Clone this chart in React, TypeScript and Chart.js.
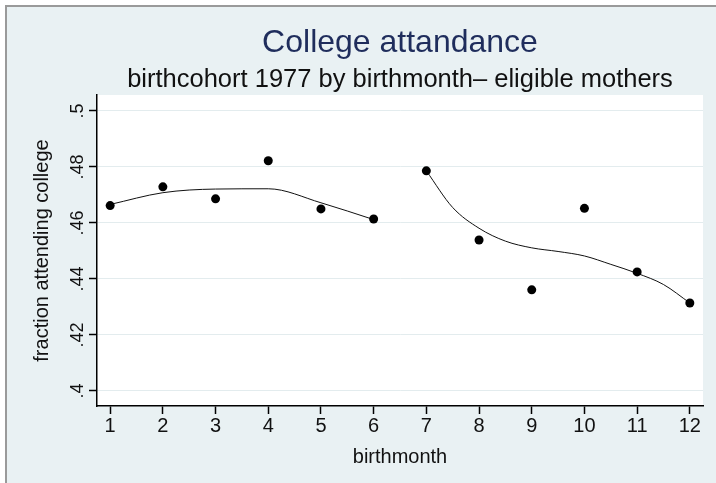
import React, { useEffect, useRef } from 'react';
import { Chart, registerables } from 'chart.js';

Chart.register(...registerables);

// ---- data ----
const months = [1, 2, 3, 4, 5, 6, 7, 8, 9, 10, 11, 12];
const fraction = [0.4662, 0.4729, 0.4686, 0.4822, 0.465, 0.4614, 0.4786, 0.4539, 0.4361, 0.4652, 0.4425, 0.4314];

const fitMonthsFirst = [1, 2, 3, 4, 5, 6];
const fitValuesFirst = [0.4666, 0.4708, 0.4721, 0.4722, 0.4672, 0.4612];

const fitMonthsSecond = [7, 7.5, 8, 8.5, 9, 9.5, 10, 10.5, 11, 11.5, 12];
const fitValuesSecond = [0.4786, 0.4655, 0.4581, 0.4535, 0.4511, 0.4498, 0.4482, 0.4452, 0.442, 0.438, 0.4314];

const xTickValues = [1, 2, 3, 4, 5, 6, 7, 8, 9, 10, 11, 12];
const xTickLabels = ['1', '2', '3', '4', '5', '6', '7', '8', '9', '10', '11', '12'];
const yTickValues = [0.4, 0.42, 0.44, 0.46, 0.48, 0.5];
const yTickLabels = ['.4', '.42', '.44', '.46', '.48', '.5'];

const titleText = 'College attandance';
const subtitleText = 'birthcohort 1977 by birthmonth\u2013 eligible mothers';
const xTitle = 'birthmonth';
const yTitle = 'fraction attending college';

const FONT = '"Liberation Sans", Arial, Helvetica, sans-serif';

const bgPlugin = {
  id: 'stataBg',
  beforeDraw(chart: any) {
    const { ctx, width, height, chartArea } = chart;
    ctx.save();
    ctx.fillStyle = '#ffffff';
    ctx.fillRect(0, 0, width, height);
    ctx.fillStyle = '#E9F1F3';
    ctx.fillRect(5, 5, width - 5, height - 5);
    ctx.fillStyle = '#9a9a9a';
    ctx.fillRect(5, 5, width - 5, 2);
    ctx.fillRect(5, 5, 2, height - 5);
    ctx.fillStyle = '#ffffff';
    ctx.fillRect(chartArea.left, chartArea.top, chartArea.right - chartArea.left, chartArea.bottom - chartArea.top);
    ctx.restore();
  },
};

export default function App() {
  const ref = useRef<HTMLCanvasElement | null>(null);

  useEffect(() => {
    document.body.style.margin = '0';
    const canvas = ref.current;
    if (!canvas) return;
    const chart = new Chart(canvas, {
      type: 'scatter',
      data: {
        datasets: [
          {
            type: 'scatter',
            data: months.map((m, i) => ({ x: m, y: fraction[i] })),
            backgroundColor: '#000',
            borderColor: '#000',
            pointRadius: 4.5,
            pointBorderWidth: 0,
            order: 0,
          },
          {
            type: 'line',
            data: fitMonthsFirst.map((m, i) => ({ x: m, y: fitValuesFirst[i] })),
            borderColor: '#111',
            borderWidth: 1,
            pointRadius: 0,
            tension: 0.4,
            cubicInterpolationMode: 'monotone',
            fill: false,
            order: 1,
          },
          {
            type: 'line',
            data: fitMonthsSecond.map((m, i) => ({ x: m, y: fitValuesSecond[i] })),
            borderColor: '#111',
            borderWidth: 1,
            pointRadius: 0,
            tension: 0.4,
            cubicInterpolationMode: 'monotone',
            fill: false,
            order: 1,
          },
        ],
      } as any,
      options: {
        responsive: false,
        animation: false,
        devicePixelRatio: 1,
        layout: { padding: { left: 0, right: 13, top: 0, bottom: 0 } },
        plugins: {
          legend: { display: false },
          tooltip: { enabled: false },
          title: {
            display: true,
            text: titleText,
            fullSize: false,
            color: '#1F2D5C',
            font: { family: FONT, size: 32, weight: 'normal' },
            padding: { top: 24, bottom: 1 },
          },
          subtitle: {
            display: true,
            text: subtitleText,
            fullSize: false,
            color: '#111',
            font: { family: FONT, size: 25.5, weight: 'normal' },
            padding: { top: 1, bottom: 0 },
          },
        },
        scales: {
          x: {
            type: 'linear',
            min: 0.75,
            max: 12.25,
            afterBuildTicks: (s: any) => {
              s.ticks = xTickValues.map((v) => ({ value: v }));
            },
            afterFit: (s: any) => {
              s.height = 77;
            },
            ticks: {
              autoSkip: false,
              color: '#111',
              font: { family: FONT, size: 20 },
              padding: 0,
              maxRotation: 0,
              callback: (v: any) => {
                const i = xTickValues.indexOf(Number(v));
                return i >= 0 ? xTickLabels[i] : '';
              },
            },
            grid: {
              drawOnChartArea: false,
              drawTicks: true,
              tickLength: 8,
              tickColor: '#000',
              tickWidth: 1.5,
            },
            border: { display: true, color: '#000', width: 1.5 },
            title: {
              display: true,
              text: xTitle,
              color: '#111',
              font: { family: FONT, size: 20 },
              padding: { top: 0, bottom: 14 },
            },
          },
          y: {
            type: 'linear',
            min: 0.3946,
            max: 0.5057,
            afterBuildTicks: (s: any) => {
              s.ticks = yTickValues.map((v) => ({ value: v }));
            },
            afterFit: (s: any) => {
              s.width = 97;
            },
            ticks: {
              autoSkip: false,
              color: '#111',
              font: { family: FONT, size: 18 },
              minRotation: 90,
              maxRotation: 90,
              crossAlign: 'center',
              padding: -2,
              callback: (v: any) => {
                const i = yTickValues.findIndex((t) => Math.abs(t - Number(v)) < 1e-9);
                return i >= 0 ? yTickLabels[i] : '';
              },
            },
            grid: {
              color: '#E3ECEE',
              lineWidth: 1,
              drawTicks: true,
              tickLength: 8,
              tickColor: '#000',
              tickWidth: 1.5,
            },
            border: { display: true, color: '#000', width: 1.5 },
            title: {
              display: true,
              text: yTitle,
              color: '#111',
              font: { family: FONT, size: 20 },
              padding: { top: 30, bottom: 0 },
            },
          },
        },
      } as any,
      plugins: [bgPlugin],
    });
    return () => chart.destroy();
  }, []);

  return (
    <div style={{ width: 716, height: 483 }}>
      <canvas ref={ref} width={716} height={483} style={{ display: 'block', width: 716, height: 483 }} />
    </div>
  );
}
